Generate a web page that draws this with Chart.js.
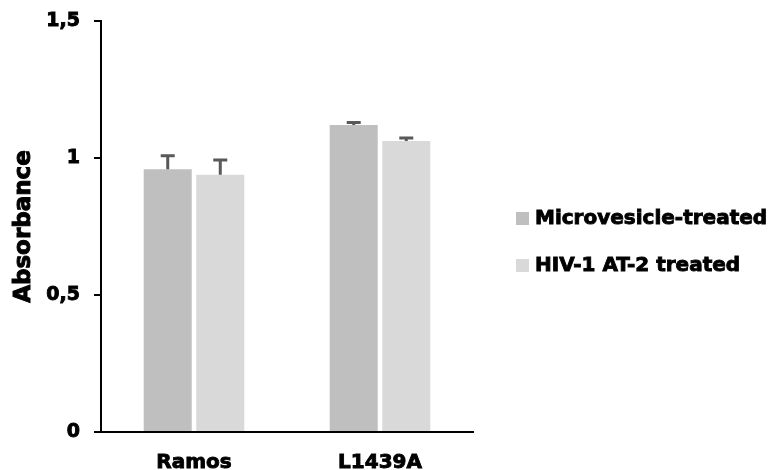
<!DOCTYPE html>
<html>
<head>
<meta charset="utf-8">
<script src="https://cdn.jsdelivr.net/npm/chart.js@4"></script>
<style>
html,body{margin:0;padding:0;background:#fff;}
#wrap{width:771px;height:470px;position:relative;}
</style>
</head>
<body>
<div id="wrap"><canvas id="c" width="771" height="470"></canvas></div>
<script>
const categories = ["Ramos", "L1439A"];
const seriesNames = ["Microvesicle-treated", "HIV-1 AT-2 treated"];
const microvesicle = [0.959, 1.120];
const hivAT2 = [0.939, 1.062];
const microvesicleErr = [0.049, 0.010];
const hivAT2Err = [0.054, 0.011];
const yTicks = [0, 0.5, 1, 1.5];
const yTitle = "Absorbance";
const colors = ["#bfbfbf", "#d9d9d9"];

const FONT = "'DejaVu Sans', sans-serif";

const errorBarPlugin = {
  id: 'errorBars',
  afterDatasetsDraw(chart) {
    const ctx = chart.ctx;
    const yScale = chart.scales.y;
    const errs = [microvesicleErr, hivAT2Err];
    chart.data.datasets.forEach((ds, di) => {
      const meta = chart.getDatasetMeta(di);
      meta.data.forEach((bar, i) => {
        const v = ds.data[i];
        const top = yScale.getPixelForValue(v + errs[di][i]);
        const base = yScale.getPixelForValue(v);
        ctx.save();
        ctx.strokeStyle = '#595959';
        ctx.lineWidth = 3;
        ctx.beginPath();
        ctx.moveTo(bar.x, base);
        ctx.lineTo(bar.x, top);
        ctx.moveTo(bar.x - 7, top);
        ctx.lineTo(bar.x + 7, top);
        ctx.stroke();
        ctx.restore();
      });
    });
  }
};

const legendPlugin = {
  id: 'customLegend',
  afterDraw(chart) {
    const ctx = chart.ctx;
    const items = chart.data.datasets;
    const x0 = 516, ys = [219, 266];
    ctx.save();
    items.forEach((ds, i) => {
      ctx.fillStyle = ds.backgroundColor;
      ctx.fillRect(x0, ys[i] - 7, 13, 13);
      ctx.fillStyle = '#000';
      ctx.strokeStyle = '#000';
      ctx.lineWidth = 0.9;
      ctx.font = "bold 20px " + FONT;
      ctx.textBaseline = 'middle';
      ctx.textAlign = 'left';
      ctx.fillText(ds.label, x0 + 19, ys[i]);
      ctx.strokeText(ds.label, x0 + 19, ys[i]);
    });
    // y-axis title
    const ca = chart.chartArea;
    ctx.translate(24, (ca.top + ca.bottom) / 2);
    ctx.rotate(-Math.PI / 2);
    ctx.textAlign = 'center';
    ctx.textBaseline = 'middle';
    ctx.font = "bold 23px " + FONT;
    ctx.lineWidth = 1;
    ctx.fillText(yTitle, 0, 0);
    ctx.strokeText(yTitle, 0, 0);
    ctx.restore();
  }
};

new Chart(document.getElementById('c'), {
  type: 'bar',
  data: {
    labels: categories,
    datasets: [
      { label: seriesNames[0], data: microvesicle, backgroundColor: colors[0], borderWidth: 0 },
      { label: seriesNames[1], data: hivAT2, backgroundColor: colors[1], borderWidth: 0 }
    ]
  },
  options: {
    responsive: false,
    animation: false,
    devicePixelRatio: 1,
    layout: { padding: { top: 21, right: 298, left: 0, bottom: 0 } },
    datasets: { bar: { categoryPercentage: 0.565, barPercentage: 0.914 } },
    plugins: { legend: { display: false }, tooltip: { enabled: false } },
    scales: {
      x: {
        grid: { display: false },
        border: { display: true, color: '#000', width: 2 },
        ticks: { color: '#000', font: { family: FONT, weight: 'bold', size: 20 }, padding: 11,
                 textStrokeColor: '#000', textStrokeWidth: 0.9 },
        afterFit(s) { s.height = 38; s.paddingLeft = 0; s.paddingRight = 0; }
      },
      y: {
        min: 0, max: 1.5,
        afterBuildTicks(s) { s.ticks = yTicks.map(v => ({ value: v })); },
        grid: { display: true, drawOnChartArea: false, drawTicks: true, tickLength: 7, color: '#000', lineWidth: 2 },
        border: { display: true, color: '#000', width: 2 },
        ticks: {
          color: '#000', padding: 14,
          font: { family: FONT, weight: 'bold', size: 19 },
          textStrokeColor: '#000', textStrokeWidth: 0.9,
          callback: v => String(v).replace('.', ',')
        },
        afterFit(s) { s.width = 101; s.paddingTop = 0; s.paddingBottom = 0; }
      }
    }
  },
  plugins: [errorBarPlugin, legendPlugin]
});
</script>
</body>
</html>
